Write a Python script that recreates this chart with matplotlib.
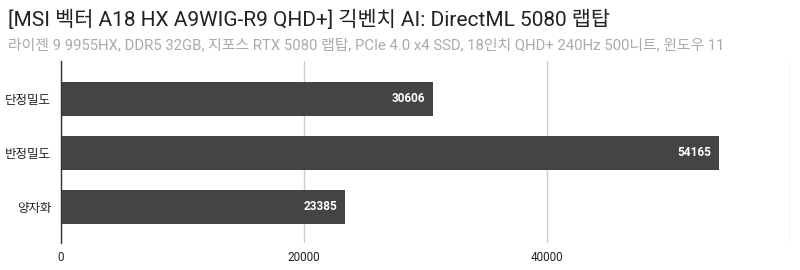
import matplotlib.pyplot as plt

plt.rcParams['font.family'] = ['Roboto', 'Noto Sans CJK KR', 'DejaVu Sans']

# 데이터
categories = ["단정밀도", "반정밀도", "양자화"]
scores = [30606, 54165, 23385]
xticks = [0, 20000, 40000]

title = "[MSI 벡터 A18 HX A9WIG-R9 QHD+] 긱벤치 AI: DirectML 5080 랩탑"
subtitle = "라이젠 9 9955HX, DDR5 32GB, 지포스 RTX 5080 랩탑, PCIe 4.0 x4 SSD, 18인치 QHD+ 240Hz 500니트, 윈도우 11"

fig = plt.figure(figsize=(8, 2.7), dpi=100)
ax = fig.add_axes([61 / 800, 1 - 243 / 270, 729 / 800, 182 / 270])

y = list(range(len(categories)))
ax.barh(y, scores, height=0.63, color="#444444", zorder=3)

for yi, v in zip(y, scores):
    ax.text(v - 60000 * 8 / 729, yi, str(v), color="white", ha="right", va="center",
            fontsize=8.5, fontweight="bold", zorder=4)

ax.set_xlim(0, 60000)
ax.set_ylim(2.67, -0.70)
ax.set_yticks(y)
ax.set_yticklabels(categories, fontsize=9, color="#222222")
ax.set_xticks(xticks + [60000])
ax.set_xticklabels([str(t) for t in xticks] + [""], fontsize=8.5, color="#222222")
ax.tick_params(length=0, pad=6)
ax.tick_params(axis="y", pad=7)

ax.grid(axis="x", color="#cccccc", linewidth=1, zorder=0)
for s in ["top", "right", "bottom"]:
    ax.spines[s].set_visible(False)
ax.spines["left"].set_color("#333333")
ax.spines["left"].set_linewidth(1)
ax.spines["left"].set_zorder(5)

fig.text(8 / 800, 1 - 20 / 270, title, fontsize=15, color="#222222", va="center", ha="left")
fig.text(8 / 800, 1 - 45 / 270, subtitle, fontsize=10.7, color="#aaaaaa", va="center", ha="left")

fig.savefig("out.png", dpi=100)
